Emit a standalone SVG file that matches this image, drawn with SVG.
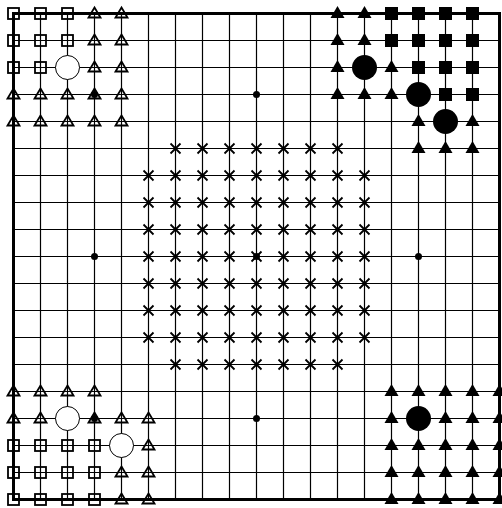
<svg xmlns="http://www.w3.org/2000/svg" xmlns:xlink="http://www.w3.org/1999/xlink" width="502" height="508" viewBox="0 0 502 508">
<style>
.grid{stroke:#000;stroke-width:1.2;fill:none}
.edge{stroke:#000;stroke-width:3;fill:none}
.so{fill:none;stroke:#000;stroke-width:1.8}
.sf{fill:#000}
.to{fill:none;stroke:#000;stroke-width:1.8;stroke-linejoin:miter}
.tf{fill:#000}
.xm{stroke:#000;stroke-width:1.8;fill:none}
.wc{fill:#fff;stroke:#000;stroke-width:1}
.bc{fill:#000}
.st{fill:#000}
</style>
<defs>
<rect id="sqO" class="so" x="-5.5" y="-5.5" width="11" height="11"/>
<rect id="sqF" class="sf" x="-6.5" y="-6.5" width="13" height="13"/>
<polygon id="triO" class="to" points="0,-6 6,4 -6,4"/>
<polygon id="triF" class="tf" points="0,-7.5 7,4.5 -7,4.5"/>
<path id="xm" class="xm" d="M-5,-5L5,5M5,-5L-5,5"/>
<circle id="wc" class="wc" r="12"/>
<circle id="bc" class="bc" r="12.5"/>
<circle id="st" class="st" r="3.5"/>
</defs>
<rect width="502" height="508" fill="#fff"/>
<g id="board">
<path class="grid" d="M40.5 13.5V499.5M67.5 13.5V499.5M94.5 13.5V499.5M121.5 13.5V499.5M148.5 13.5V499.5M175.5 13.5V499.5M202.5 13.5V499.5M229.5 13.5V499.5M256.5 13.5V499.5M283.5 13.5V499.5M310.5 13.5V499.5M337.5 13.5V499.5M364.5 13.5V499.5M391.5 13.5V499.5M418.5 13.5V499.5M445.5 13.5V499.5M472.5 13.5V499.5M13.5 40.5H499.5M13.5 67.5H499.5M13.5 94.5H499.5M13.5 121.5H499.5M13.5 148.5H499.5M13.5 175.5H499.5M13.5 202.5H499.5M13.5 229.5H499.5M13.5 256.5H499.5M13.5 283.5H499.5M13.5 310.5H499.5M13.5 337.5H499.5M13.5 364.5H499.5M13.5 391.5H499.5M13.5 418.5H499.5M13.5 445.5H499.5M13.5 472.5H499.5"/>
<rect class="edge" x="13.5" y="13.5" width="486" height="486"/>
</g>
<g id="stars">
<use href="#st" x="94.5" y="94.5"/>
<use href="#st" x="256.5" y="94.5"/>
<use href="#st" x="94.5" y="256.5"/>
<use href="#st" x="256.5" y="256.5"/>
<use href="#st" x="418.5" y="256.5"/>
<use href="#st" x="94.5" y="418.5"/>
<use href="#st" x="256.5" y="418.5"/>
</g>
<g id="top-left">
<use href="#sqO" x="13.5" y="13.5"/><use href="#sqO" x="40.5" y="13.5"/><use href="#sqO" x="67.5" y="13.5"/>
<use href="#sqO" x="13.5" y="40.5"/><use href="#sqO" x="40.5" y="40.5"/><use href="#sqO" x="67.5" y="40.5"/>
<use href="#sqO" x="13.5" y="67.5"/><use href="#sqO" x="40.5" y="67.5"/>
<use href="#wc" x="67.5" y="67.5"/>
<use href="#triO" x="94.5" y="13.5"/><use href="#triO" x="121.5" y="13.5"/>
<use href="#triO" x="94.5" y="40.5"/><use href="#triO" x="121.5" y="40.5"/>
<use href="#triO" x="94.5" y="67.5"/><use href="#triO" x="121.5" y="67.5"/>
<use href="#triO" x="13.5" y="94.5"/><use href="#triO" x="40.5" y="94.5"/><use href="#triO" x="67.5" y="94.5"/><use href="#triO" x="94.5" y="94.5"/><use href="#triO" x="121.5" y="94.5"/>
<use href="#triO" x="13.5" y="121.5"/><use href="#triO" x="40.5" y="121.5"/><use href="#triO" x="67.5" y="121.5"/><use href="#triO" x="94.5" y="121.5"/><use href="#triO" x="121.5" y="121.5"/>
</g>
<g id="top-right">
<use href="#sqF" x="391.5" y="13.5"/><use href="#sqF" x="418.5" y="13.5"/><use href="#sqF" x="445.5" y="13.5"/><use href="#sqF" x="472.5" y="13.5"/>
<use href="#sqF" x="391.5" y="40.5"/><use href="#sqF" x="418.5" y="40.5"/><use href="#sqF" x="445.5" y="40.5"/><use href="#sqF" x="472.5" y="40.5"/>
<use href="#sqF" x="418.5" y="67.5"/><use href="#sqF" x="445.5" y="67.5"/><use href="#sqF" x="472.5" y="67.5"/>
<use href="#sqF" x="445.5" y="94.5"/><use href="#sqF" x="472.5" y="94.5"/>
<use href="#triF" x="337.5" y="13.5"/><use href="#triF" x="364.5" y="13.5"/>
<use href="#triF" x="337.5" y="40.5"/><use href="#triF" x="364.5" y="40.5"/>
<use href="#triF" x="337.5" y="67.5"/><use href="#triF" x="391.5" y="67.5"/>
<use href="#triF" x="337.5" y="94.5"/><use href="#triF" x="364.5" y="94.5"/><use href="#triF" x="391.5" y="94.5"/>
<use href="#triF" x="418.5" y="121.5"/><use href="#triF" x="472.5" y="121.5"/>
<use href="#triF" x="418.5" y="148.5"/><use href="#triF" x="445.5" y="148.5"/><use href="#triF" x="472.5" y="148.5"/>
<use href="#bc" x="364.5" y="67.5"/>
<use href="#bc" x="418.5" y="94.5"/>
<use href="#bc" x="445.5" y="121.5"/>
</g>
<g id="center">
<use href="#xm" x="175.5" y="148.5"/><use href="#xm" x="202.5" y="148.5"/><use href="#xm" x="229.5" y="148.5"/><use href="#xm" x="256.5" y="148.5"/><use href="#xm" x="283.5" y="148.5"/><use href="#xm" x="310.5" y="148.5"/><use href="#xm" x="337.5" y="148.5"/>
<use href="#xm" x="148.5" y="175.5"/><use href="#xm" x="175.5" y="175.5"/><use href="#xm" x="202.5" y="175.5"/><use href="#xm" x="229.5" y="175.5"/><use href="#xm" x="256.5" y="175.5"/><use href="#xm" x="283.5" y="175.5"/><use href="#xm" x="310.5" y="175.5"/><use href="#xm" x="337.5" y="175.5"/><use href="#xm" x="364.5" y="175.5"/>
<use href="#xm" x="148.5" y="202.5"/><use href="#xm" x="175.5" y="202.5"/><use href="#xm" x="202.5" y="202.5"/><use href="#xm" x="229.5" y="202.5"/><use href="#xm" x="256.5" y="202.5"/><use href="#xm" x="283.5" y="202.5"/><use href="#xm" x="310.5" y="202.5"/><use href="#xm" x="337.5" y="202.5"/><use href="#xm" x="364.5" y="202.5"/>
<use href="#xm" x="148.5" y="229.5"/><use href="#xm" x="175.5" y="229.5"/><use href="#xm" x="202.5" y="229.5"/><use href="#xm" x="229.5" y="229.5"/><use href="#xm" x="256.5" y="229.5"/><use href="#xm" x="283.5" y="229.5"/><use href="#xm" x="310.5" y="229.5"/><use href="#xm" x="337.5" y="229.5"/><use href="#xm" x="364.5" y="229.5"/>
<use href="#xm" x="148.5" y="256.5"/><use href="#xm" x="175.5" y="256.5"/><use href="#xm" x="202.5" y="256.5"/><use href="#xm" x="229.5" y="256.5"/><use href="#xm" x="256.5" y="256.5"/><use href="#xm" x="283.5" y="256.5"/><use href="#xm" x="310.5" y="256.5"/><use href="#xm" x="337.5" y="256.5"/><use href="#xm" x="364.5" y="256.5"/>
<use href="#xm" x="148.5" y="283.5"/><use href="#xm" x="175.5" y="283.5"/><use href="#xm" x="202.5" y="283.5"/><use href="#xm" x="229.5" y="283.5"/><use href="#xm" x="256.5" y="283.5"/><use href="#xm" x="283.5" y="283.5"/><use href="#xm" x="310.5" y="283.5"/><use href="#xm" x="337.5" y="283.5"/><use href="#xm" x="364.5" y="283.5"/>
<use href="#xm" x="148.5" y="310.5"/><use href="#xm" x="175.5" y="310.5"/><use href="#xm" x="202.5" y="310.5"/><use href="#xm" x="229.5" y="310.5"/><use href="#xm" x="256.5" y="310.5"/><use href="#xm" x="283.5" y="310.5"/><use href="#xm" x="310.5" y="310.5"/><use href="#xm" x="337.5" y="310.5"/><use href="#xm" x="364.5" y="310.5"/>
<use href="#xm" x="148.5" y="337.5"/><use href="#xm" x="175.5" y="337.5"/><use href="#xm" x="202.5" y="337.5"/><use href="#xm" x="229.5" y="337.5"/><use href="#xm" x="256.5" y="337.5"/><use href="#xm" x="283.5" y="337.5"/><use href="#xm" x="310.5" y="337.5"/><use href="#xm" x="337.5" y="337.5"/><use href="#xm" x="364.5" y="337.5"/>
<use href="#xm" x="175.5" y="364.5"/><use href="#xm" x="202.5" y="364.5"/><use href="#xm" x="229.5" y="364.5"/><use href="#xm" x="256.5" y="364.5"/><use href="#xm" x="283.5" y="364.5"/><use href="#xm" x="310.5" y="364.5"/><use href="#xm" x="337.5" y="364.5"/>
</g>
<g id="bottom-left">
<use href="#triO" x="13.5" y="391.5"/><use href="#triO" x="40.5" y="391.5"/><use href="#triO" x="67.5" y="391.5"/><use href="#triO" x="94.5" y="391.5"/>
<use href="#triO" x="13.5" y="418.5"/><use href="#triO" x="40.5" y="418.5"/><use href="#triO" x="94.5" y="418.5"/><use href="#triO" x="121.5" y="418.5"/><use href="#triO" x="148.5" y="418.5"/>
<use href="#triO" x="148.5" y="445.5"/>
<use href="#triO" x="121.5" y="472.5"/><use href="#triO" x="148.5" y="472.5"/>
<use href="#triO" x="121.5" y="499.5"/><use href="#triO" x="148.5" y="499.5"/>
<use href="#sqO" x="13.5" y="445.5"/><use href="#sqO" x="40.5" y="445.5"/><use href="#sqO" x="67.5" y="445.5"/><use href="#sqO" x="94.5" y="445.5"/>
<use href="#sqO" x="13.5" y="472.5"/><use href="#sqO" x="40.5" y="472.5"/><use href="#sqO" x="67.5" y="472.5"/><use href="#sqO" x="94.5" y="472.5"/>
<use href="#sqO" x="13.5" y="499.5"/><use href="#sqO" x="40.5" y="499.5"/><use href="#sqO" x="67.5" y="499.5"/><use href="#sqO" x="94.5" y="499.5"/>
<use href="#wc" x="67.5" y="418.5"/>
<use href="#wc" x="121.5" y="445.5"/>
</g>
<g id="bottom-right">
<use href="#triF" x="391.5" y="391.5"/><use href="#triF" x="418.5" y="391.5"/><use href="#triF" x="445.5" y="391.5"/><use href="#triF" x="472.5" y="391.5"/><use href="#triF" x="499.5" y="391.5"/>
<use href="#triF" x="391.5" y="418.5"/><use href="#triF" x="445.5" y="418.5"/><use href="#triF" x="472.5" y="418.5"/><use href="#triF" x="499.5" y="418.5"/>
<use href="#triF" x="391.5" y="445.5"/><use href="#triF" x="418.5" y="445.5"/><use href="#triF" x="445.5" y="445.5"/><use href="#triF" x="472.5" y="445.5"/><use href="#triF" x="499.5" y="445.5"/>
<use href="#triF" x="391.5" y="472.5"/><use href="#triF" x="418.5" y="472.5"/><use href="#triF" x="445.5" y="472.5"/><use href="#triF" x="472.5" y="472.5"/><use href="#triF" x="499.5" y="472.5"/>
<use href="#triF" x="391.5" y="499.5"/><use href="#triF" x="418.5" y="499.5"/><use href="#triF" x="445.5" y="499.5"/><use href="#triF" x="472.5" y="499.5"/><use href="#triF" x="499.5" y="499.5"/>
<use href="#bc" x="418.5" y="418.5"/>
</g>
</svg>
